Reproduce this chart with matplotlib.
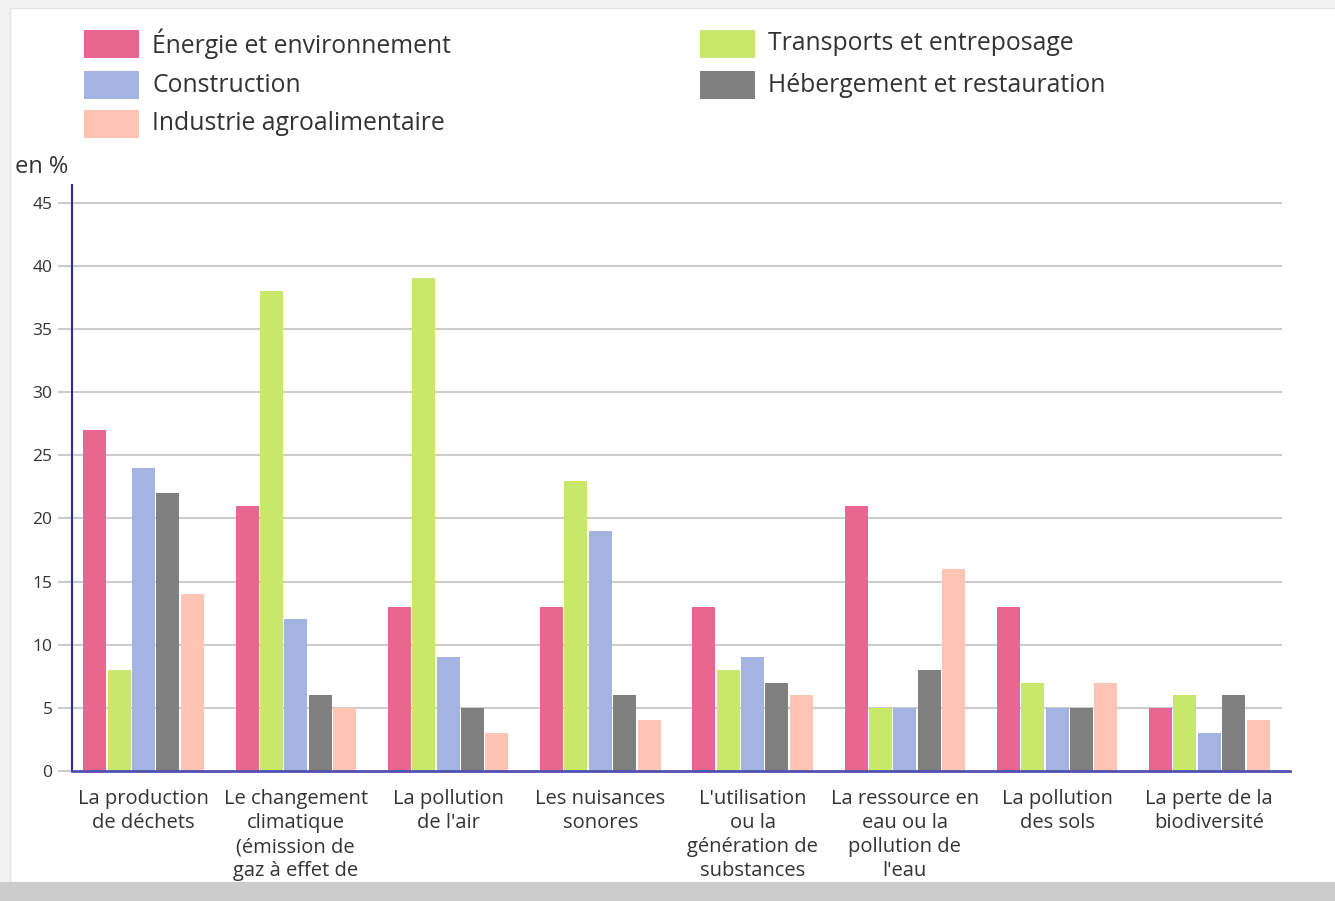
import matplotlib.pyplot as plt
from matplotlib.patches import Rectangle
import numpy as np

plt.rcParams['font.family'] = ['Open Sans', 'DejaVu Sans']

categories = ["La production\nde déchets",
              "Le changement\nclimatique\n(émission de\ngaz à effet de",
              "La pollution\nde l'air",
              "Les nuisances\nsonores",
              "L'utilisation\nou la\ngénération de\nsubstances",
              "La ressource en\neau ou la\npollution de\nl'eau",
              "La pollution\ndes sols",
              "La perte de la\nbiodiversité"]
series = ["Énergie et environnement", "Transports et entreposage", "Construction",
          "Hébergement et restauration", "Industrie agroalimentaire"]
energie = [27, 21, 13, 13, 13, 21, 13, 5]
transports = [8, 38, 39, 23, 8, 5, 7, 6]
construction = [24, 12, 9, 19, 9, 5, 5, 3]
hebergement = [22, 6, 5, 6, 7, 8, 5, 6]
industrie = [14, 5, 3, 4, 6, 16, 7, 4]
colors = ["#e8668f", "#c8e86c", "#a3b4e3", "#808080", "#ffc4b4"]

W, H = 1335, 901
fig = plt.figure(figsize=(W / 100, H / 100), dpi=100)
fig.patch.set_facecolor('#f2f2f2')
fig.add_artist(Rectangle((10 / W, 19 / H), 1, 874 / H, transform=fig.transFigure,
                         facecolor='white', edgecolor='#e4e4e4', lw=1, zorder=0))

ax = fig.add_axes([72 / W, 1 - 771 / H, (1290 - 72) / W, (771 - 185) / H])
ax.set_facecolor('none')

x = np.arange(len(categories))
bw = 0.151
step = 0.16
vals = [energie, transports, construction, hebergement, industrie]
for k, v in enumerate(vals):
    ax.bar(x + (k - 2) * step, v, width=bw, color=colors[k], zorder=3)

ax.set_xlim(-0.47, 7.53)
ax.set_ylim(0, 46.4)
ax.set_yticks(range(0, 50, 5))
for yv in range(5, 50, 5):
    ax.axhline(yv, xmin=0, xmax=(1281 - 72) / (1290 - 72), color='#cccccc', lw=1.5, zorder=1)
ax.set_xticks(x)
ax.set_xticklabels(categories, fontsize=14.5, color='#333333', linespacing=1.27, va='top')
ax.tick_params(axis='x', length=0, pad=13)
ax.tick_params(axis='y', length=10, color='#cccccc', width=1.5, labelsize=12.5, labelcolor='#333333', pad=4)

for s in ['top', 'right']:
    ax.spines[s].set_visible(False)
ax.spines['left'].set_color('#2b2ba0')
ax.spines['left'].set_linewidth(1.5)
ax.spines['bottom'].set_color('#5050b0')
ax.spines['bottom'].set_linewidth(2)
ax.spines['bottom'].set_zorder(4)

fig.text(15 / W, 1 - 167 / H, "en %", fontsize=17, color='#333333', va='center', ha='left')

# legend
leg_pos = [(84, 44), (700, 44), (84, 85), (700, 85), (84, 124)]
for k, name in enumerate(series):
    px, py = leg_pos[k]
    fig.add_artist(Rectangle((px / W, 1 - (py + 14) / H), 55 / W, 28 / H,
                             transform=fig.transFigure, facecolor=colors[k], edgecolor='none'))
    fig.text((px + 68) / W, 1 - py / H, name, fontsize=17.8, color='#333333', va='center', ha='left')

fig.add_artist(Rectangle((0, 0), 1, 19 / H, transform=fig.transFigure,
                         facecolor='#cccccc', edgecolor='none', zorder=10))

fig.savefig('out.png', dpi=100, facecolor=fig.get_facecolor())
